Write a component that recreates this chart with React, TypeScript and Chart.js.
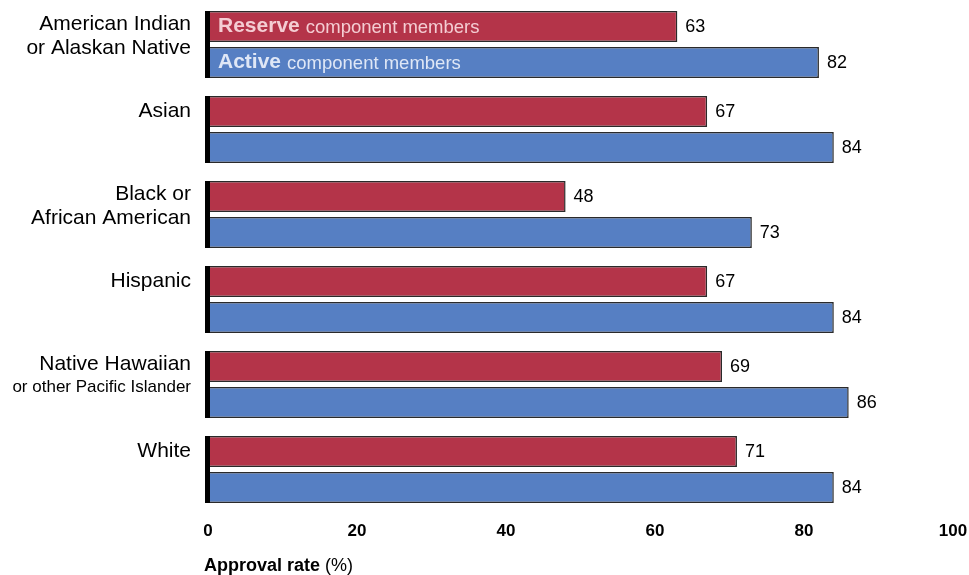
import React, { useEffect, useRef } from "react";
import { Chart, registerables } from "chart.js";

Chart.register(...registerables);

const categories: string[][] = [
  ["American Indian", "or Alaskan Native"],
  ["Asian"],
  ["Black or", "African American"],
  ["Hispanic"],
  ["Native Hawaiian", "or other Pacific Islander"],
  ["White"],
];
const reserveValues = [63, 67, 48, 67, 69, 71];
const activeValues = [82, 84, 73, 84, 86, 84];
const xTicks = [0, 20, 40, 60, 80, 100];

const RED = "#b43449";
const BLUE = "#567fc3";
const FONT = "'Liberation Sans', Arial, sans-serif";
const NARROW = "'Liberation Sans Narrow', 'Liberation Sans', Arial, sans-serif";

const overlayPlugin = {
  id: "overlay",
  afterDatasetsDraw(chart: any) {
    const ctx = chart.ctx;
    const m0 = chart.getDatasetMeta(0);
    const m1 = chart.getDatasetMeta(1);
    const left = chart.chartArea.left;
    ctx.save();
    // black axis strips per group
    m0.data.forEach((b0: any, i: number) => {
      const b1 = m1.data[i];
      const top = b0.y - b0.height / 2;
      const bottom = b1.y + b1.height / 2;
      ctx.fillStyle = "#000";
      ctx.fillRect(left - 3, top, 5, bottom - top);
    });
    // value labels
    ctx.font = `18px ${FONT}`;
    ctx.fillStyle = "#000";
    ctx.textAlign = "left";
    ctx.textBaseline = "middle";
    [m0, m1].forEach((m: any, di: number) => {
      const vals = di === 0 ? reserveValues : activeValues;
      m.data.forEach((b: any, i: number) => {
        ctx.fillText(String(vals[i]), b.x + 8, b.y + 1);
      });
    });
    // legend text inside first group
    const drawLegend = (b: any, bold: string, rest: string, color: string) => {
      ctx.fillStyle = color;
      ctx.textAlign = "left";
      ctx.textBaseline = "middle";
      ctx.font = `bold 21px ${FONT}`;
      const x = left + 10;
      ctx.fillText(bold, x, b.y);
      const w = ctx.measureText(bold).width + 6;
      ctx.font = `18.5px ${FONT}`;
      ctx.fillText(rest, x + w, b.y + 1);
    };
    drawLegend(m0.data[0], "Reserve", "component members", "#f4cdd3");
    drawLegend(m1.data[0], "Active", "component members", "#dfe7f6");
    // category labels
    ctx.textAlign = "right";
    ctx.fillStyle = "#000";
    m0.data.forEach((b: any, i: number) => {
      const lines = categories[i];
      const x = left - 17;
      if (lines.length === 1) {
        ctx.font = `21px ${FONT}`;
        ctx.fillText(lines[0], x, b.y);
      } else {
        ctx.font = `21px ${FONT}`;
        ctx.fillText(lines[0], x, b.y - 2);
        const small = lines[1].length > 20;
        ctx.font = small ? `17px ${FONT}` : `21px ${FONT}`;
        ctx.fillText(lines[1], x, b.y + (small ? 21 : 22));
      }
    });
    // axis title
    ctx.textAlign = "left";
    ctx.font = `bold 18px ${NARROW}`;
    const tx = left - 4;
    const ty = 566;
    ctx.fillText("Approval rate", tx, ty);
    const tw = ctx.measureText("Approval rate").width + 5;
    ctx.font = `18px ${NARROW}`;
    ctx.fillText("(%)", tx + tw, ty);
    ctx.restore();
  },
};

export default function App() {
  const ref = useRef<HTMLCanvasElement | null>(null);
  useEffect(() => {
    if (!ref.current) return;
    const chart = new Chart(ref.current, {
      type: "bar",
      data: {
        labels: categories.map((c) => c.join(" ")),
        datasets: [
          {
            label: "Reserve component members",
            data: reserveValues,
            backgroundColor: RED,
            borderColor: "#2a2a2a",
            borderWidth: 1.5,
            borderSkipped: false,
            categoryPercentage: 72 / 85,
            barPercentage: 31 / 36,
          },
          {
            label: "Active component members",
            data: activeValues,
            backgroundColor: BLUE,
            borderColor: "#2a2a2a",
            borderWidth: 1.5,
            borderSkipped: false,
            categoryPercentage: 72 / 85,
            barPercentage: 31 / 36,
          },
        ],
      },
      options: {
        indexAxis: "y",
        responsive: true,
        maintainAspectRatio: false,
        animation: false,
        layout: { padding: { left: 208, right: 16, top: 2, bottom: 0 } },
        plugins: {
          legend: { display: false },
          tooltip: { enabled: false },
          title: { display: false },
        },
        scales: {
          x: {
            type: "linear",
            min: 0,
            max: 100,
            afterBuildTicks: (s: any) => {
              s.ticks = xTicks.map((v) => ({ value: v }));
            },
            afterFit: (s: any) => {
              s.height = 63;
              s.paddingLeft = 0;
              s.paddingRight = 0;
            },
            grid: { display: false, drawTicks: false },
            border: { display: false },
            ticks: {
              padding: 9,
              color: "#000",
              font: { family: NARROW, size: 17, weight: "bold" },
            },
          },
          y: {
            type: "category",
            grid: { display: false, drawTicks: false },
            border: { display: false },
            ticks: { display: false },
            afterFit: (s: any) => {
              s.width = 0;
            },
          },
        },
      },
      plugins: [overlayPlugin],
    } as any);
    return () => chart.destroy();
  }, []);
  return (
    <div style={{ position: "fixed", left: 0, top: 0, width: 969, height: 575, background: "#fff" }}>
      <canvas ref={ref} />
    </div>
  );
}
